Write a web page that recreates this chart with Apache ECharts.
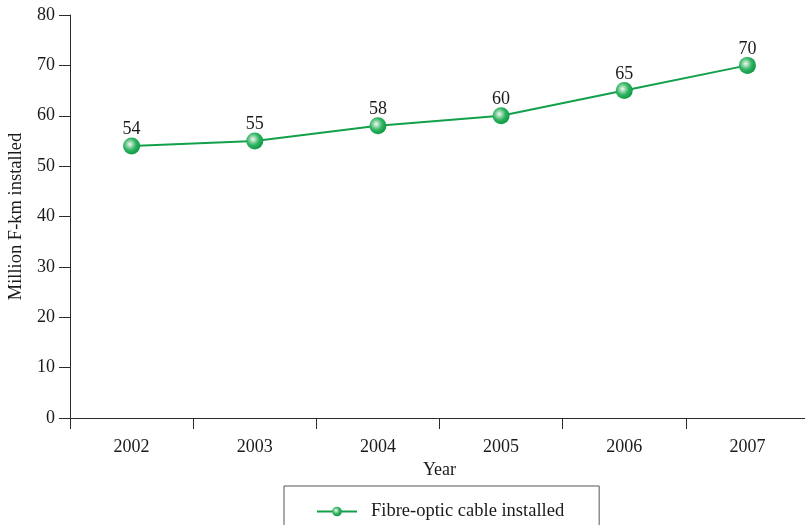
<!DOCTYPE html>
<html>
<head>
<meta charset="utf-8">
<style>
  html, body { margin: 0; padding: 0; background: #ffffff; }
  #chart { width: 805px; height: 525px; }
</style>
<script src="https://cdn.jsdelivr.net/npm/echarts@6/dist/echarts.min.js"></script>
</head>
<body>
<div id="chart"></div>
<script>
// Installed fibre-optic cable by year (million fibre-km)
var years = ['2002', '2003', '2004', '2005', '2006', '2007'];
var installed = [54, 55, 58, 60, 65, 70];
var yTicks = { min: 0, max: 80, interval: 10 };

var serif = '"Liberation Serif", "DejaVu Serif", serif';
var axisColor = '#2a2a2a';
var textColor = '#1a1a1a';
var lineGreen = '#12a04a';

// Glossy sphere fill for the point markers
var sphere = new echarts.graphic.RadialGradient(0.4, 0.4, 0.65, [
  { offset: 0, color: '#f2faf4' },
  { offset: 0.25, color: '#9ad8ae' },
  { offset: 0.55, color: '#2fb462' },
  { offset: 1, color: '#0a9440' }
]);

var chart = echarts.init(document.getElementById('chart'), null, { renderer: 'canvas' });
chart.setOption({
  animation: false,
  textStyle: { fontFamily: serif },
  grid: { left: 70, right: -4, top: 15, bottom: 107, containLabel: false, outerBoundsMode: 'none' },
  legend: {
    bottom: -8,
    left: 284,
    padding: [16, 35, 12, 32],
    borderColor: '#555555',
    borderWidth: 1,
    itemWidth: 40,
    itemHeight: 12,
    itemGap: 10,
    textStyle: { fontFamily: serif, fontSize: 18.5, color: textColor, padding: [0, 0, 0, 9] },
    data: ['Fibre-optic cable installed']
  },
  xAxis: {
    type: 'category',
    data: years,
    boundaryGap: true,
    name: 'Year',
    nameLocation: 'middle',
    nameGap: 43,
    nameTextStyle: { fontFamily: serif, fontSize: 18, color: textColor },
    axisLine: { lineStyle: { color: axisColor, width: 1 } },
    axisTick: { show: true, inside: false, length: 11, alignWithLabel: false, lineStyle: { color: axisColor } },
    axisLabel: { fontFamily: serif, fontSize: 18, color: textColor, margin: 20 },
    splitLine: { show: false }
  },
  yAxis: {
    type: 'value',
    min: yTicks.min,
    max: yTicks.max,
    interval: yTicks.interval,
    name: 'Million F-km installed',
    nameLocation: 'middle',
    nameGap: 40,
    nameRotate: 90,
    nameTextStyle: { fontFamily: serif, fontSize: 18.5, color: textColor },
    axisLine: { show: true, lineStyle: { color: axisColor, width: 1 } },
    axisTick: { show: true, inside: false, length: 11, lineStyle: { color: axisColor } },
    axisLabel: { fontFamily: serif, fontSize: 18, color: textColor, margin: 15 },
    splitLine: { show: false }
  },
  series: [{
    name: 'Fibre-optic cable installed',
    type: 'line',
    data: installed,
    symbol: 'circle',
    symbolSize: 17,
    lineStyle: { color: lineGreen, width: 2 },
    itemStyle: { color: sphere, borderWidth: 0 },
    label: {
      show: true,
      position: 'top',
      distance: -1,
      fontFamily: serif,
      fontSize: 18,
      color: textColor
    }
  }]
});
</script>
</body>
</html>
